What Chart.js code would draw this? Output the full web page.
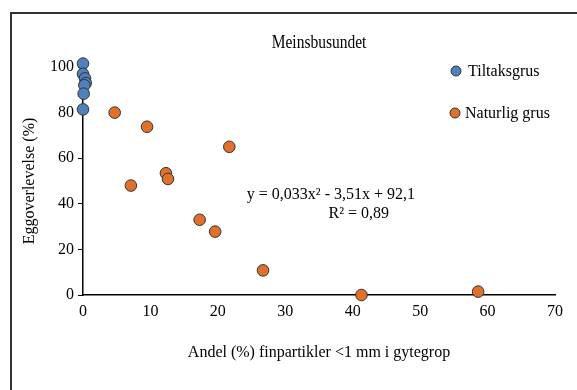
<!DOCTYPE html>
<html lang="en">
<head>
    <meta charset="UTF-8">
    <title>Meinsbusundet</title>
    <script src="https://cdn.jsdelivr.net/npm/chart.js"></script>
    <style>
        html, body { margin: 0; padding: 0; background: #fff; }
        #wrap { width: 577px; height: 390px; }
    </style>
</head>
<body>
    <div id="wrap"><canvas id="chart"></canvas></div>
    <script>
        // data
        const tiltakX = [0, 0, 0.3, 0.4, 0.2, 0.1, 0];
        const tiltakY = [101.5, 97, 95, 93, 92, 88.3, 81.4];
        const naturligX = [4.7, 9.5, 7.1, 12.3, 12.6, 21.7, 17.3, 19.6, 26.7, 41.3, 58.6];
        const naturligY = [80, 73.8, 48, 53.4, 50.9, 65, 33, 27.8, 10.8, 0, 1.5];
        const seriesNames = ['Tiltaksgrus', 'Naturlig grus'];
        const colors = ['#4f81bd', '#e0702a'];

        const serif = "'Liberation Serif', 'Times New Roman', serif";

        const toPoints = (xs, ys) => xs.map((x, i) => ({ x: x, y: ys[i] }));

        // frame, title, legend and equation text
        const extras = {
            id: 'extras',
            beforeDraw(chart) {
                const c = chart.ctx;
                c.save();
                c.fillStyle = '#fff';
                c.fillRect(0, 0, chart.width, chart.height);
                c.strokeStyle = '#333';
                c.lineWidth = 2;
                c.beginPath();
                c.moveTo(11, chart.height + 5);
                c.lineTo(11, 13);
                c.lineTo(chart.width + 5, 13);
                c.stroke();
                c.restore();
            },
            afterDraw(chart) {
                const c = chart.ctx;
                c.save();
                c.fillStyle = '#000';
                c.textBaseline = 'middle';
                // title looks horizontally condensed in the reference
                c.save();
                c.translate(319, 43);
                c.scale(0.86, 1);
                c.font = '18px ' + serif;
                c.textAlign = 'center';
                c.fillText('Meinsbusundet', 0, 0);
                c.restore();

                c.font = '16px ' + serif;
                c.textAlign = 'left';
                const legendPos = [[456, 71], [455, 113]];
                const textX = [468, 465];
                seriesNames.forEach((name, i) => {
                    const [lx, ly] = legendPos[i];
                    c.beginPath();
                    c.arc(lx, ly, 5, 0, Math.PI * 2);
                    c.fillStyle = colors[i];
                    c.fill();
                    c.strokeStyle = '#333';
                    c.lineWidth = 1;
                    c.stroke();
                    c.fillStyle = '#000';
                    c.fillText(name, textX[i], ly + 1);
                });

                c.textAlign = 'right';
                c.fillText('y = 0,033x² - 3,51x + 92,1', 415, 195);
                c.fillText('R² = 0,89', 389, 214);
                c.restore();
            }
        };

        const ctx = document.getElementById('chart').getContext('2d');
        const chart = new Chart(ctx, {
            type: 'scatter',
            data: {
                datasets: [
                    {
                        label: seriesNames[0],
                        data: toPoints(tiltakX, tiltakY),
                        backgroundColor: colors[0],
                        borderColor: '#333',
                        borderWidth: 1,
                        pointRadius: 5.8,
                        clip: false
                    },
                    {
                        label: seriesNames[1],
                        data: toPoints(naturligX, naturligY),
                        backgroundColor: colors[1],
                        borderColor: '#333',
                        borderWidth: 1,
                        pointRadius: 5.8,
                        clip: false
                    }
                ]
            },
            options: {
                responsive: true,
                maintainAspectRatio: false,
                animation: false,
                layout: { padding: { top: 67, right: 22, left: 0, bottom: 0 } },
                plugins: {
                    legend: { display: false },
                    title: { display: false },
                    tooltip: { enabled: false }
                },
                scales: {
                    x: {
                        type: 'linear',
                        min: 0,
                        max: 70,
                        border: { color: '#000', width: 1.5 },
                        grid: { display: false, drawOnChartArea: false, drawTicks: true, tickLength: 5, color: '#000' },
                        ticks: { stepSize: 10, color: '#000', font: { family: serif, size: 16 }, padding: 2, maxRotation: 0 },
                        title: {
                            display: true,
                            text: 'Andel (%) finpartikler <1 mm i gytegrop',
                            color: '#000',
                            font: { family: serif, size: 16 },
                            padding: { top: 0, bottom: 28 }
                        },
                        afterFit(scale) { scale.height = 95; }
                    },
                    y: {
                        min: 0,
                        max: 100,
                        border: { color: '#000', width: 1.5 },
                        grid: { display: true, drawOnChartArea: false, drawTicks: true, tickLength: 5, color: '#000' },
                        ticks: { stepSize: 20, color: '#000', font: { family: serif, size: 16 }, padding: 4 },
                        title: {
                            display: true,
                            text: 'Eggoverlevelse (%)',
                            color: '#000',
                            font: { family: serif, size: 16 },
                            padding: { top: 20, bottom: 0 }
                        },
                        afterFit(scale) { scale.width = 83; }
                    }
                }
            },
            plugins: [extras]
        });
    </script>
</body>
</html>
